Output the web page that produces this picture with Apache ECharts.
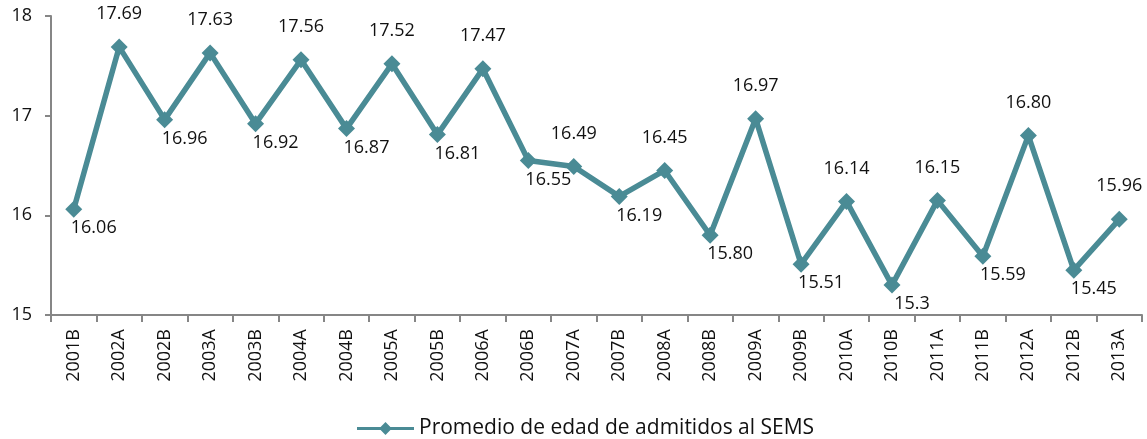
<!DOCTYPE html>
<html><head><meta charset="utf-8">
<script src="https://cdn.jsdelivr.net/npm/echarts@6/dist/echarts.min.js"></script>
<style>html,body{margin:0;padding:0;background:#fff}#c{width:1147px;height:439px}</style>
</head><body><div id="c"></div>
<script>
const categories = ["2001B","2002A","2002B","2003A","2003B","2004A","2004B","2005A","2005B","2006A","2006B","2007A","2007B","2008A","2008B","2009A","2009B","2010A","2010B","2011A","2011B","2012A","2012B","2013A"];
const values = [16.06,17.69,16.96,17.63,16.92,17.56,16.87,17.52,16.81,17.47,16.55,16.49,16.19,16.45,15.80,16.97,15.51,16.14,15.30,16.15,15.59,16.80,15.45,15.96];
const labelTexts = ["16.06","17.69","16.96","17.63","16.92","17.56","16.87","17.52","16.81","17.47","16.55","16.49","16.19","16.45","15.80","16.97","15.51","16.14","15.3","16.15","15.59","16.80","15.45","15.96"];
const labelSide = ["below","above","below","above","below","above","below","above","below","above","below","above","below","above","below","above","below","above","below","above","below","above","below","above"];
const seriesName = "Promedio de edad de admitidos al SEMS";
const yTicks = [15,16,17,18];

const color = "#4a8b95";
const font = "'Open Sans', 'Liberation Sans', sans-serif";
const sideOffset = {above:[0,-33], below:[20,19]};
const chart = echarts.init(document.getElementById('c'));
chart.setOption({
  animation:false,
  grid:{left:51,right:5,top:16,bottom:124},
  legend:{top:413,left:352,itemWidth:57,itemHeight:14,itemGap:10,
    textStyle:{fontFamily:font,fontSize:21,color:'#111'},
    data:[{name:seriesName,icon:'path://M0,6 L24,6 L29,1 L34,6 L58,6 L58,9 L34,9 L29,14 L24,9 L0,9 Z'}]},
  xAxis:{type:'category',data:categories,boundaryGap:true,
    axisLine:{lineStyle:{color:'#868686',width:2}},
    axisTick:{show:true,interval:0,length:7,lineStyle:{color:'#868686',width:2}},
    axisLabel:{interval:0,rotate:90,margin:14,fontFamily:font,fontSize:18,color:'#111'}},
  yAxis:{type:'value',min:15,max:18,interval:1,
    axisLine:{show:true,lineStyle:{color:'#868686',width:2}},
    axisTick:{show:true,length:6,lineStyle:{color:'#868686',width:2}},
    splitLine:{show:false},
    axisLabel:{margin:19,fontFamily:font,fontSize:18,color:'#111',formatter:v=>yTicks.includes(v)?String(v):''}},
  series:[{name:seriesName,type:'line',
    data:values.map((v,i)=>({value:v,label:{position:'inside',offset:sideOffset[labelSide[i]]}})),
    symbol:'diamond',symbolSize:17,
    lineStyle:{color:color,width:5.5},
    itemStyle:{color:color},
    label:{show:true,fontFamily:font,fontSize:18,color:'#111',
      formatter:p=>labelTexts[p.dataIndex]}}]
});
</script></body></html>
